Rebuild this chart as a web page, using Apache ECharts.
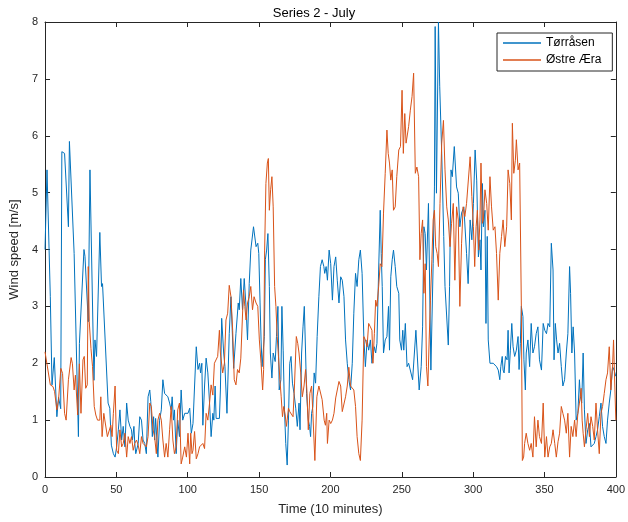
<!DOCTYPE html>
<html>
<head>
<meta charset="utf-8">
<script src="https://cdn.jsdelivr.net/npm/echarts@6/dist/echarts.min.js"></script>
<style>
  html, body { margin: 0; padding: 0; background: #fff; }
  #chart { width: 628px; height: 522px; }
</style>
</head>
<body>
<div id="chart"></div>
<script>
// [time index, wind speed m/s]
const torrasen = [
  [0,4.0],[1.4,5.4],[3.7,3.17],[4.9,1.62],[6.5,2.1],[8.3,1.06],[9.5,1.4],[11,1.2],[11.8,5.72],[13.7,5.69],[16.4,4.4],[17.1,5.9],[20.4,3.93],[23.4,0.71],[24.1,2.35],[27.3,4.0],[28,3.88],[29.2,3.9],[30.3,2.73],[31.5,5.4],[34.3,1.7],[35,2.41],[36.1,2.12],[38.4,4.3],[39.6,3.35],[40.3,3.4],[44.2,1.3],[45.4,1.21],[46.5,0.56],
  [47.9,0.41],[49.1,0.35],[50.2,0.53],[51.4,0.83],[52.5,1.18],[53.7,0.65],[54.8,0.89],[56,0.53],[57.2,1.3],[58.3,1.0],[59.5,0.89],[60.6,0.83],[61.3,0.65],[62.3,0.89],[62.9,0.59],[63.6,0.41],[65.3,0.59],[66.4,1.06],[67.6,1.0],[68.7,0.65],[69.9,0.59],[71,0.41],[72.2,1.41],[73.4,1.53],[74.1,1.33],[75.2,0.71],[76.1,1.06],[76.8,0.65],[77.5,1.03],[79.1,0.35],[80.3,1.0],[81.5,1.18],[82.6,1.71],[83.8,1.47],[84.9,1.47],[86.1,1.41],[87.3,1.3],[88.4,1.18],[89.1,1.41],[90,1.0],[90.7,1.18],[91.9,0.41],[93,1.0],[94.2,0.71],[95.4,1.53],[96.5,1.0],
  [97.9,1.12],[99.1,1.09],[100.2,1.12],[101.4,1.21],[102.5,0.77],[103.7,0.94],[104.8,1.6],[106,2.29],[107.2,1.89],[108.3,2.0],[109,1.83],[109.9,2.0],[110.6,0.91],[111.8,1.6],[112.9,2.09],[114.1,1.83],[115.3,1.3],[116.4,0.71],[117.6,1.12],[118.3,1.0],[119.2,1.6],[119.9,1.03],[121,1.03],[122.2,1.03],[122.9,1.53],[123.8,2.79],[125.2,2.18],[126.1,1.94],[127.5,1.12],[129.1,2.52],[130.3,3.17],[132.2,1.91],[133.8,2.52],[135.4,3.06],[136.1,2.94],[137.2,3.49],[138.4,2.94],[139.6,3.49],[140.7,3.06],[141.9,2.41],[143.1,3.4],[144.2,3.99],[146.1,4.4],
  [147.9,4.05],[149.1,4.11],[149.8,3.93],[150.7,3.06],[151.4,2.41],[152.1,1.94],[153,1.94],[153.7,2.47],[154.4,3.82],[155.3,3.99],[156.2,4.28],[157.2,3.35],[157.9,2.18],[159,1.74],[159.9,2.18],[160.6,2.21],[161.3,2.03],[162.2,2.47],[163.2,3.0],[164.1,1.53],[165.3,1.71],[166,3.0],[166.9,2.23],[167.8,1.18],[168.7,0.59],[169.7,0.21],[170.6,1.0],[171.5,2.0],[172.4,2.12],[173.4,1.65],[174.5,1.47],[175.7,1.21],[176.8,0.89],[178,1.3],[178.7,0.83],[179.8,2.18],[180.8,2.64],[181.7,3.0],[182.6,2.18],[183.3,1.47],[184.5,1.0],[185.4,0.89],[186.1,0.71],[186.8,1.12],[187.7,1.24],[188.6,1.83],[189.6,1.65],[190.7,2.47],[191.9,3.17],[193,3.7],[194.2,3.82],[195.4,3.7],[196,3.58],[197,3.7],
  [197.9,3.46],[199.1,3.99],[200.2,3.75],[201.4,3.11],[202.5,3.7],[203.7,3.87],[204.8,3.46],[206,3.06],[207.2,3.52],[208.3,3.46],[209.5,3.17],[210.6,2.41],[211.8,2.0],[212.9,1.71],[214.1,1.53],[215.3,2.0],[216.4,2.88],[217.6,3.58],[218.7,3.35],[219.9,3.82],[221,3.99],[222.2,3.58],[223.4,2.47],[224.5,1.94],[225.7,2.41],[226.8,2.23],[228,2.41],[229.1,2.0],[229.8,2.12],[230.8,2.29],[231.7,2.18],[232.6,2.35],[233.8,3.64],[234.9,4.69],[235.6,3.93],[236.3,3.35],[237.2,2.18],[238.4,2.41],[239.6,2.47],[240.7,3.0],[241.4,2.23],[242.3,3.52],[243.3,3.82],[244.2,3.99],[245.4,3.7],[246.5,3.35],
  [247.9,3.23],[248.6,2.41],[249.8,2.23],[250.7,2.58],[251.4,2.23],[252.5,2.7],[253.7,1.94],[254.8,2.0],[256,1.97],[257.6,1.71],[259.9,2.58],[262.2,1.53],[263.6,1.94],[264.6,2.64],[265.5,4.4],[266.4,4.28],[267.3,3.64],[268.7,4.81],[270.4,1.88],[272,3.75],[272.9,5.1],[273.4,7.92],[274.3,4.99],[275.7,8.0],[276.6,6.86],[278,5.69],[279.4,4.23],[280.3,3.35],[282.6,2.32],[283.5,3.35],[284.5,5.4],[285.4,5.28],[286.8,5.81],[288.4,5.1],[289.6,4.99],[290.7,4.4],[291.9,4.64],[293.5,4.75],[295.4,3.93],[296.5,3.4],
  [297.9,4.52],[299.1,4.17],[300.2,4.81],[301.4,5.75],[302.5,5.22],[303.7,3.87],[304.8,4.17],[305.5,3.64],[306.5,5.16],[307.2,4.4],[308.3,4.69],[309,2.7],[309.9,4.23],[310.6,2.41],[311.8,2.0],[312.9,2.0],[314.1,2.0],[315.3,2.0],[316.4,1.94],[317.6,1.88],[318.7,1.71],[319.4,1.94],[320.4,2.12],[321,1.88],[321.7,1.83],[322.7,2.12],[323.8,2.06],[324.5,2.58],[325.2,1.83],[326.1,2.23],[327.1,2.7],[328,2.29],[329.1,2.12],[330.3,2.23],[331.5,2.47],[332.2,1.89],[333.1,2.35],[333.8,3.0],[334.9,2.82],[335.6,2.06],[336.6,1.53],[337.2,2.18],[338.4,2.41],[339.6,1.94],[340.7,2.7],[341.9,2.18],[343,2.29],[344.2,2.52],[345.4,2.64],[346.5,2.06],
  [347.9,1.88],[349.1,2.7],[350.2,2.58],[351.4,2.52],[352.5,2.7],[353.7,2.64],[354.8,4.11],[356,3.64],[356.7,2.06],[357.6,2.7],[358.5,2.41],[359.5,2.18],[360.6,2.35],[361.8,1.94],[362.9,1.6],[364.1,1.71],[365.3,2.18],[366.4,2.52],[367.6,3.7],[368.3,3.23],[369.2,2.18],[370.1,2.64],[371.1,2.18],[372.2,1.0],[373.4,1.12],[374.5,1.71],[375.2,1.41],[376.1,1.3],[377.1,2.18],[378,1.18],[379.1,0.59],[380.3,0.83],[381.5,0.94],[382.6,0.53],[383.8,0.53],[384.9,0.59],[386.1,0.71],[387.2,0.83],[388.4,1.06],[389.6,1.3],[390.7,0.89],[391.9,0.71],[393.1,0.59],[394.2,1.0],[395.4,1.3],[396.5,1.53],[397.7,1.94],[398.8,1.88],[400,1.77]
];

const ostreAera = [
  [0,2.2],[3.7,1.62],[5.6,1.59],[6.7,1.5],[8.3,1.18],[9.5,1.36],[11.1,1.91],[12.3,1.82],[13.7,1.12],[14.8,1.0],[15.5,1.0],[16.4,1.71],[18.3,2.1],[19.2,1.99],[20.4,1.53],[21.3,1.79],[22.9,1.09],[24.1,1.99],[25.2,1.12],[26.6,2.06],[27.5,2.12],[28.5,1.56],[29.6,1.62],[30.3,3.7],[31,2.73],[32.2,2.26],[33.3,1.94],[34.5,1.24],[35.6,1.09],[36.8,1.0],[38.4,1.0],[39.1,1.41],[40,0.71],[41.2,1.12],[42.6,1.09],[43.7,0.71],[44.9,0.74],[46.1,0.91],[47,0.71],
  [47.9,1.12],[49.1,1.6],[50.2,0.47],[51.4,0.41],[52.5,0.83],[53.7,0.53],[54.8,0.59],[56,0.77],[57.2,0.35],[58.3,0.71],[59.5,0.59],[60.6,0.71],[61.8,0.47],[62.9,0.59],[64.1,0.65],[65.3,0.56],[66.4,0.41],[67.6,0.71],[68.7,0.59],[69.9,0.62],[71,0.53],[72.2,0.71],[73.4,1.3],[74.5,1.24],[75.7,0.83],[76.8,0.71],[78,0.41],[79.1,1.0],[80.3,1.12],[81.5,1.0],[82.6,0.65],[83.8,0.35],[84.9,0.59],[86.1,0.35],[87.3,0.83],[88.4,1.24],[89.6,0.65],[90.7,0.41],[91.9,0.53],[93,1.18],[94.2,1.3],[95.4,0.23],[96.5,0.35],
  [97.9,0.53],[99.1,0.35],[100.2,0.77],[101.4,0.23],[102.1,0.77],[103,0.41],[103.7,0.47],[104.8,0.8],[106,0.32],[107.2,0.41],[108.3,0.53],[109.5,0.53],[110.6,0.59],[111.8,0.5],[112.9,1.12],[114.1,1.0],[115.3,1.3],[116.4,1.62],[117.6,1.44],[118.7,2.0],[119.9,2.03],[121,2.12],[122.2,2.58],[122.9,2.18],[123.8,2.18],[124.5,1.83],[125.7,2.0],[126.8,2.76],[128,2.88],[129.1,3.37],[130.3,3.17],[131.5,2.58],[132.6,1.71],[133.8,1.62],[134.9,1.89],[136.1,1.83],[137.2,2.09],[138.4,2.12],[139.1,3.29],[140,3.0],[140.9,2.76],[141.9,3.06],[143.1,3.17],[144.2,3.35],[145.4,2.94],[146.5,3.17],
  [147.9,3.06],[149.1,3.0],[150.2,2.41],[151.4,2.0],[152.5,1.53],[153.2,1.89],[153.9,3.99],[154.8,5.16],[155.8,5.52],[156.5,5.6],[157.2,4.69],[158.1,5.05],[159,5.28],[159.9,4.75],[160.9,3.35],[161.8,3.0],[162.7,2.47],[163.6,2.12],[164.6,1.71],[165.5,1.41],[166.4,1.06],[167.3,1.24],[168.3,1.09],[169.2,0.89],[170.6,1.21],[171.5,1.15],[172.9,1.18],[173.8,1.06],[174.8,1.6],[176.1,2.47],[177.1,2.35],[178,2.18],[179.2,1.83],[180.3,1.41],[181.5,1.6],[182.6,1.89],[183.5,1.53],[184.5,0.83],[185.6,1.47],[186.8,1.6],[187.7,1.12],[189.1,0.29],[190.5,1.41],[191.9,1.6],[192.8,1.6],[194.2,1.36],[195.6,1.0],[196.5,0.91],[197.4,1.12],
  [197.9,0.59],[199.1,1.0],[200.2,0.94],[201.4,1.0],[202.5,1.12],[203.7,1.39],[204.8,1.41],[206,1.68],[207.2,1.6],[208.3,1.15],[209.5,1.12],[210.6,1.41],[211.8,1.6],[212.9,1.93],[214.1,1.6],[215.3,1.6],[216.4,1.53],[217.6,1.24],[218.7,0.71],[219.9,0.41],[221,0.29],[222.2,1.0],[223.4,2.47],[224.5,2.41],[225.7,2.29],[226.8,2.7],[228,2.64],[229.1,2.58],[229.8,2.0],[230.8,2.52],[231.7,3.11],[232.6,3.0],[233.8,3.35],[234.9,3.75],[236.1,3.7],[237.2,4.64],[238.4,5.34],[239.6,6.1],[240.5,5.69],[241.4,5.52],[242.3,5.22],[243.3,5.4],[244.2,4.69],[245.4,4.75],[246.5,5.28],
  [247.9,5.75],[249.1,5.81],[250.2,6.8],[251.1,5.69],[252.1,6.39],[253,5.87],[253.9,5.87],[254.8,6.16],[256,6.45],[257.2,6.69],[258.3,7.1],[259.5,5.34],[260.6,5.45],[261.8,5.28],[262.7,3.82],[263.6,4.28],[264.6,4.52],[265.5,3.23],[266.4,3.75],[267.3,1.94],[268.3,1.6],[269.2,2.41],[270.1,3.11],[271.1,3.82],[272,4.52],[272.9,4.69],[273.8,4.05],[274.8,3.93],[275.7,3.7],[276.8,4.81],[278,5.87],[279.2,6.27],[280.3,5.4],[281.5,4.75],[282.6,4.52],[283.8,4.05],[284.9,4.46],[286.1,4.81],[287.2,3.46],[288.4,4.75],[289.6,4.52],[290.7,3.0],[291.9,4.11],[293,4.75],[294.2,4.58],[295.4,4.81],[296.5,4.81],
  [297.9,5.63],[299.1,4.93],[300.2,4.4],[301.1,3.7],[302.1,4.4],[303,4.69],[303.9,3.99],[304.8,4.52],[305.5,5.52],[306.5,4.46],[307.2,4.52],[308.3,5.05],[309.5,4.81],[310.6,4.34],[311.8,5.28],[312.9,4.75],[314.1,4.34],[315.3,4.4],[316.4,3.93],[317.6,3.11],[318.7,3.93],[319.9,4.23],[321,4.52],[322.2,4.05],[323.5,4.4],[324.5,5.4],[325.7,5.16],[326.8,4.52],[327.5,6.22],[328.5,5.34],[329.6,5.57],[330.3,5.93],[331.5,5.4],[332.6,5.52],[333.8,3.0],[334.5,0.29],[335.4,0.35],[336.1,0.59],[337.2,0.77],[338.4,0.59],[339.6,0.47],[340.7,0.59],[341.9,0.35],[343,1.06],[344.2,0.53],[345.4,1.0],[346.5,0.71],
  [347.9,0.59],[349.1,1.3],[350.2,0.35],[351.4,0.71],[352.5,0.35],[353.7,0.53],[354.8,0.59],[356,0.83],[357.2,0.59],[358.3,0.35],[359.5,0.62],[360.6,0.77],[361.8,1.24],[362.9,1.12],[364.1,1.0],[365.3,0.77],[366.4,1.12],[367.6,0.35],[368.7,0.89],[369.9,0.71],[371.1,1.0],[372.2,0.71],[373.4,1.12],[374.5,1.3],[375.7,1.56],[376.4,1.0],[377.1,0.77],[378,0.53],[379.1,0.83],[380.3,1.12],[381.5,0.71],[382.6,1.06],[383.8,0.89],[384.9,0.65],[386.1,1.3],[387.2,0.83],[388.4,0.41],[389.6,1.12],[390.7,1.24],[391.9,1.47],[393.1,1.71],[394.2,1.83],[395.4,2.29],[396.5,1.53],[397.7,1.94],[398.4,2.41],[399.3,1.6],[400,1.0]
];

const seriesNames = ['Tørråsen', 'Østre Æra'];
const xTicks = { min: 0, max: 400, interval: 50 };
const yTicks = { min: 0, max: 8, interval: 1 };

const FONT = '"Liberation Sans", Arial, Helvetica, sans-serif';
const AXIS_COLOR = '#262626';

const chart = echarts.init(document.getElementById('chart'), null, { renderer: 'canvas' });

// MATLAB style box: mirrored axes on top/right with inward ticks, no labels
function boxAxis(base, pos, showLabels) {
  return Object.assign({
    type: 'value',
    position: pos,
    axisLine: { show: true, onZero: false, lineStyle: { color: AXIS_COLOR, width: 1 } },
    axisTick: { show: true, inside: true, length: 5, lineStyle: { color: AXIS_COLOR } },
    axisLabel: { show: showLabels, color: AXIS_COLOR, fontFamily: FONT, fontSize: 11, margin: 7 },
    splitLine: { show: false }
  }, base);
}

chart.setOption({
  animation: false,
  backgroundColor: '#fff',
  title: {
    text: 'Series 2 - July',
    left: 'center',
    top: 2,
    textStyle: { fontFamily: FONT, fontSize: 13, fontWeight: 'normal', color: '#000' }
  },
  legend: {
    data: seriesNames,
    orient: 'vertical',
    left: 497,
    top: 33,
    padding: [4, 11, 5, 6],
    itemGap: 5,
    itemWidth: 38,
    itemHeight: 1.5,
    icon: 'rect',
    backgroundColor: '#fff',
    borderColor: AXIS_COLOR,
    borderWidth: 1,
    textStyle: { fontFamily: FONT, fontSize: 12, color: '#000' }
  },
  grid: { left: 41, right: 11, top: 22, bottom: 45, containLabel: false },
  xAxis: [
    boxAxis(Object.assign({
      name: 'Time (10 minutes)',
      nameLocation: 'middle',
      nameGap: 26,
      nameTextStyle: { fontFamily: FONT, fontSize: 13, color: AXIS_COLOR }
    }, xTicks), 'bottom', true),
    boxAxis(Object.assign({}, xTicks), 'top', false)
  ],
  yAxis: [
    boxAxis(Object.assign({
      name: 'Wind speed [m/s]',
      nameLocation: 'middle',
      nameGap: 18,
      nameRotate: 90,
      nameTextStyle: { fontFamily: FONT, fontSize: 13, color: AXIS_COLOR }
    }, yTicks), 'left', true),
    boxAxis(Object.assign({}, yTicks), 'right', false)
  ],
  series: [
    {
      name: seriesNames[0],
      type: 'line',
      data: torrasen,
      showSymbol: false,
      symbol: 'none',
      color: '#0072BD',
      lineStyle: { color: '#0072BD', width: 1 }
    },
    {
      name: seriesNames[1],
      type: 'line',
      data: ostreAera,
      showSymbol: false,
      symbol: 'none',
      color: '#D95319',
      lineStyle: { color: '#D95319', width: 1 }
    }
  ]
});
</script>
</body>
</html>
